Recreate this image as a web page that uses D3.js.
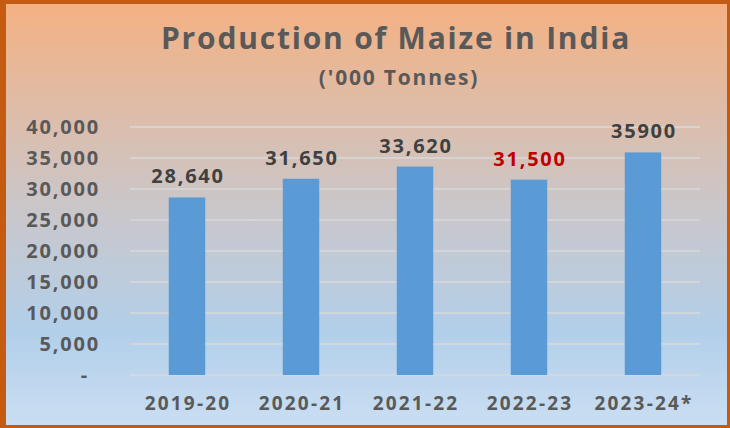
<!DOCTYPE html>
<html>
<head>
<meta charset="utf-8">
<script src="https://cdn.jsdelivr.net/npm/d3@7"></script>
<style>
  body { margin: 0; padding: 0; }
  svg { display: block; }
</style>
</head>
<body>
<div id="chartArea"></div>
<script>
// data
var years = ['2019-20', '2020-21', '2021-22', '2022-23', '2023-24*'];
var production = [28640, 31650, 33620, 31500, 35900];
var valueLabels = ['28,640', '31,650', '33,620', '31,500', '35900'];
var labelColors = ['#404040', '#404040', '#404040', '#C00000', '#404040'];
var yTicks = [0, 5000, 10000, 15000, 20000, 25000, 30000, 35000, 40000];

var width = 730, height = 428;
var fontFam = '"Open Sans", Lato, sans-serif';

var svg = d3.select('#chartArea').append('svg')
  .attr('width', width)
  .attr('height', height);

// background gradient
var defs = svg.append('defs');
var grad = defs.append('linearGradient')
  .attr('id', 'bgGrad')
  .attr('x1', 0).attr('y1', 0).attr('x2', 0).attr('y2', 1);
grad.append('stop').attr('offset', '0%').attr('stop-color', '#F4B183');
grad.append('stop').attr('offset', '47%').attr('stop-color', '#CBC6C8');
grad.append('stop').attr('offset', '78%').attr('stop-color', '#B2CFEA');
grad.append('stop').attr('offset', '100%').attr('stop-color', '#CADEF2');

svg.append('rect')
  .attr('x', 0).attr('y', 0)
  .attr('width', width).attr('height', height)
  .attr('fill', '#C55A11');

svg.append('rect')
  .attr('x', 6).attr('y', 4)
  .attr('width', 727 - 6).attr('height', 425 - 4)
  .attr('fill', 'url(#bgGrad)');

// titles
svg.append('text')
  .attr('x', 396).attr('y', 49)
  .attr('text-anchor', 'middle')
  .style('font-family', fontFam)
  .style('font-weight', 'bold')
  .style('font-size', '30px')
  .style('letter-spacing', '1.8px')
  .style('fill', '#595959')
  .text('Production of Maize in India');

svg.append('text')
  .attr('x', 399).attr('y', 85)
  .attr('text-anchor', 'middle')
  .style('font-family', fontFam)
  .style('font-weight', 'bold')
  .style('font-size', '21px')
  .style('letter-spacing', '1.8px')
  .style('fill', '#595959')
  .text("('000 Tonnes)");

// scales
var plot = { left: 130, right: 700, top: 127, bottom: 375 };

var x = d3.scaleBand()
  .domain(years)
  .range([plot.left, plot.right])
  .paddingInner(0.68)
  .paddingOuter(0.34);

var y = d3.scaleLinear()
  .domain([0, 40000])
  .range([plot.bottom, plot.top]);

// grid lines
svg.append('g')
  .selectAll('line')
  .data(yTicks)
  .enter().append('line')
  .attr('x1', plot.left).attr('x2', plot.right)
  .attr('y1', function(d){ return y(d); })
  .attr('y2', function(d){ return y(d); })
  .attr('stroke', '#D9D9D9')
  .attr('stroke-width', 1.5);

// y axis labels
var yAxis = d3.axisLeft(y)
  .tickValues(yTicks)
  .tickSize(0)
  .tickPadding(0)
  .tickFormat(function(d){ return d === 0 ? '-' : d3.format(',')(d); });

var yG = svg.append('g')
  .attr('transform', 'translate(100,0)')
  .call(yAxis);
yG.select('.domain').remove();
yG.selectAll('text')
  .style('font-family', fontFam)
  .style('font-weight', 'bold')
  .style('font-size', '20px')
  .style('letter-spacing', '1.8px')
  .style('fill', '#595959');
yG.selectAll('text').filter(function(d){ return d === 0; })
  .attr('x', -11);

// bars
svg.append('g')
  .selectAll('rect')
  .data(production)
  .enter().append('rect')
  .attr('x', function(d, i){ return x(years[i]); })
  .attr('y', function(d){ return y(d); })
  .attr('width', x.bandwidth())
  .attr('height', function(d){ return plot.bottom - y(d); })
  .attr('fill', '#5B9BD5');

// value labels
svg.append('g')
  .selectAll('text')
  .data(production)
  .enter().append('text')
  .attr('x', function(d, i){ return x(years[i]) + x.bandwidth() / 2 + 1; })
  .attr('y', function(d){ return y(d) - 14; })
  .attr('text-anchor', 'middle')
  .style('font-family', fontFam)
  .style('font-weight', 'bold')
  .style('font-size', '20px')
  .style('letter-spacing', '1.8px')
  .style('fill', function(d, i){ return labelColors[i]; })
  .text(function(d, i){ return valueLabels[i]; });

// x axis labels
var xAxis = d3.axisBottom(x).tickSize(0).tickPadding(0);
var xG = svg.append('g')
  .attr('transform', 'translate(1,' + (plot.bottom + 21) + ')')
  .call(xAxis);
xG.select('.domain').remove();
xG.selectAll('text')
  .style('font-family', fontFam)
  .style('font-weight', 'bold')
  .style('font-size', '19px')
  .style('letter-spacing', '2.2px')
  .style('fill', '#595959');
</script>
</body>
</html>
